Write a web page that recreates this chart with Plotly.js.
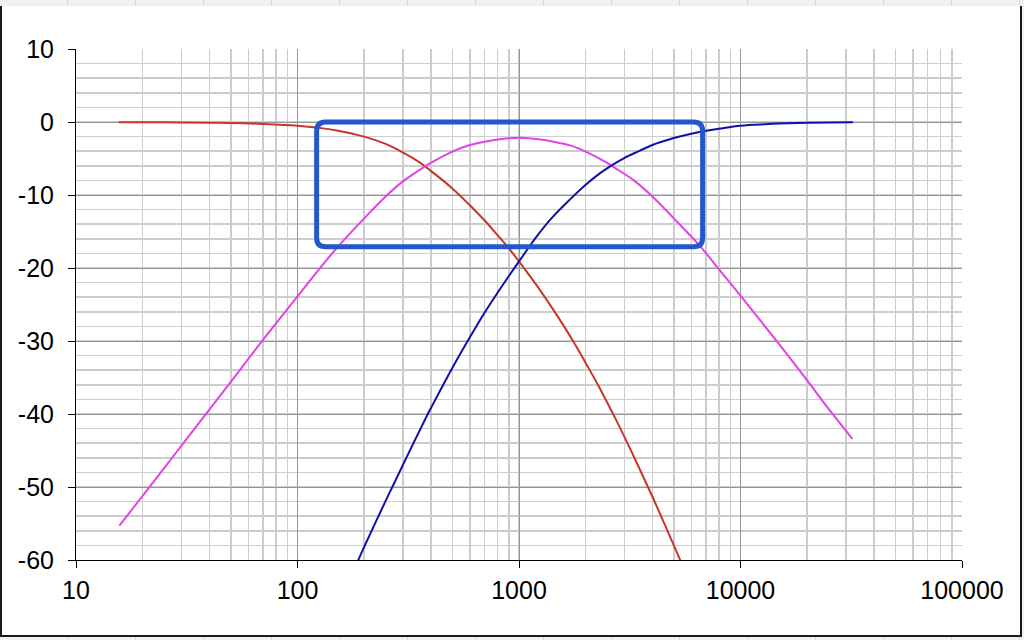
<!DOCTYPE html>
<html>
<head>
<meta charset="utf-8">
<script src="https://cdn.plot.ly/plotly-3.0.1.min.js"></script>
<style>
html,body{margin:0;padding:0;width:1024px;height:640px;overflow:hidden;
  background-color:#f1f1f1;
  background-image:repeating-linear-gradient(to right, transparent 0px, transparent 67px, #d6d6d6 67px, #d6d6d6 68px);}
#frame{position:absolute;left:0;top:6px;width:1022px;height:631px;box-sizing:border-box;background:#fff;
  border-left:2px solid #1a1a1a;border-right:2px solid #1a1a1a;border-bottom:2px solid #1a1a1a;}
#chart{position:absolute;left:0;top:0;width:1024px;height:640px;}
</style>
</head>
<body>
<div id="frame"></div>
<div id="chart"></div>
<script>
// ---- data ----
const redFreq = [15.6, 20, 30, 40, 50, 70, 100, 125, 150, 200, 250, 300, 350, 400, 500, 600, 700, 800, 900, 1000, 1200, 1500, 1770, 2000, 2300, 2700, 3000, 3500, 4000, 4500, 5000, 5500];
const redDb   = [-0.03, -0.04, -0.06, -0.09, -0.13, -0.26, -0.5, -0.8, -1.15, -2.0, -3.0, -4.2, -5.4, -6.7, -9.1, -11.4, -13.5, -15.5, -17.3, -19.1, -22.35, -26.7, -30.2, -33.0, -36.3, -40.4, -43.2, -47.5, -51.3, -54.8, -58.0, -60.9];

const magFreq = [15.7, 20, 25, 30, 40, 50, 70, 100, 125, 150, 200, 250, 300, 376, 400, 500, 600, 700, 800, 900, 1000, 1100, 1250, 1400, 1700, 2000, 2500, 2700, 3300, 4000, 5000, 6700, 8000, 10000, 15000, 20000, 25000, 32000];
const magDb   = [-55.3, -51.2, -47.4, -44.3, -39.4, -35.6, -29.8, -23.9, -20.2, -17.3, -13.2, -10.2, -8.1, -6.1, -5.6, -4.05, -3.15, -2.7, -2.4, -2.22, -2.15, -2.21, -2.4, -2.65, -3.2, -4.05, -5.6, -6.25, -8.0, -10.2, -13.2, -17.3, -20.2, -23.8, -30.5, -35.4, -39.3, -43.4];

const blueFreq = [180, 190, 200, 250, 270, 300, 383, 400, 500, 600, 700, 800, 900, 1000, 1100, 1200, 1400, 1700, 2000, 2300, 2600, 3000, 3500, 4000, 5000, 6000, 7000, 8000, 10000, 13000, 18000, 25000, 32200];
const blueDb   = [-61.3, -59.7, -58.2, -51.9, -49.8, -46.9, -40.3, -39.2, -33.7, -29.5, -26.1, -23.4, -21.1, -19.1, -17.3, -15.7, -13.2, -10.6, -8.6, -7.1, -6.0, -4.9, -3.95, -3.15, -2.2, -1.6, -1.2, -0.92, -0.5, -0.3, -0.15, -0.06, -0.02];

const xTickVals = [10, 100, 1000, 10000, 100000];
const xTickText = ["10", "100", "1000", "10000", "100000"];
const yTickVals = [-60, -50, -40, -30, -20, -10, 0, 10];
const yTickText = ["-60", "-50", "-40", "-30", "-20", "-10", "0", "10"];

// highlight box (frequency range and level range)
const boxFreq = [122, 6745];
const boxDb = [0, -17.1];

// ---- layout ----
const W = 1024, H = 640;
const M = {l: 76, r: 62, t: 49, b: 80};
const plotW = W - M.l - M.r, plotH = H - M.t - M.b;
const xRange = [1, 5], yRange = [-60, 10];
const px = f => (Math.log10(f) - xRange[0]) / (xRange[1] - xRange[0]);
const py = v => (v - yRange[0]) / (yRange[1] - yRange[0]);

const xl = px(boxFreq[0]), xr = px(boxFreq[1]);
const yt = py(boxDb[0]), yb = py(boxDb[1]);
const rx = 9 / plotW, ry = 9 / plotH;
const boxPath = `M ${xl+rx},${yt} L ${xr-rx},${yt} Q ${xr},${yt} ${xr},${yt-ry} L ${xr},${yb+ry} Q ${xr},${yb} ${xr-rx},${yb} L ${xl+rx},${yb} Q ${xl},${yb} ${xl},${yb+ry} L ${xl},${yt-ry} Q ${xl},${yt} ${xl+rx},${yt} Z`;

const lineStyle = (c) => ({color: c, width: 2, shape: 'spline', smoothing: 1, simplify: false});
const traces = [
  {x: redFreq, y: redDb, mode: 'lines', line: lineStyle('#c8352a'), hoverinfo: 'skip'},
  {x: magFreq, y: magDb, mode: 'lines', line: lineStyle('#e043e6'), hoverinfo: 'skip'},
  {x: blueFreq, y: blueDb, mode: 'lines', line: lineStyle('#1010a8'), hoverinfo: 'skip'}
];

const font = {family: '"Liberation Sans", Arial, Helvetica, sans-serif', size: 25, color: '#000'};
const layout = {
  width: W, height: H, autosize: false,
  margin: {l: M.l, r: M.r, t: M.t, b: M.b, pad: 0},
  paper_bgcolor: 'rgba(0,0,0,0)', plot_bgcolor: '#ffffff',
  showlegend: false,
  font: font,
  xaxis: {
    type: 'log', range: xRange,
    tickvals: xTickVals, ticktext: xTickText,
    ticks: 'outside', ticklen: 7, tickwidth: 1, tickcolor: '#000',
    showline: true, linecolor: '#000', linewidth: 1, mirror: false,
    showgrid: true, gridcolor: '#969696', gridwidth: 1,
    minor: {dtick: 'D1', showgrid: true, gridcolor: '#cdcdcd', gridwidth: 1.5, ticks: ''},
    zeroline: false, tickfont: font, ticklabelstandoff: 1
  },
  yaxis: {
    range: yRange,
    tickvals: yTickVals, ticktext: yTickText,
    ticks: 'outside', ticklen: 7, tickwidth: 1, tickcolor: '#000',
    showline: true, linecolor: '#000', linewidth: 1, mirror: false,
    showgrid: true, gridcolor: '#969696', gridwidth: 1,
    minor: {dtick: 2, showgrid: true, gridcolor: '#cdcdcd', gridwidth: 1.5, ticks: ''},
    zeroline: false, tickfont: font, ticklabelstandoff: 9
  },
  shapes: [{
    type: 'path', xref: 'paper', yref: 'paper', path: boxPath,
    line: {color: '#2457cc', width: 5}, fillcolor: 'rgba(0,0,0,0)', layer: 'above'
  }]
};

Plotly.newPlot('chart', traces, layout, {displayModeBar: false, staticPlot: true});
</script>
</body>
</html>
